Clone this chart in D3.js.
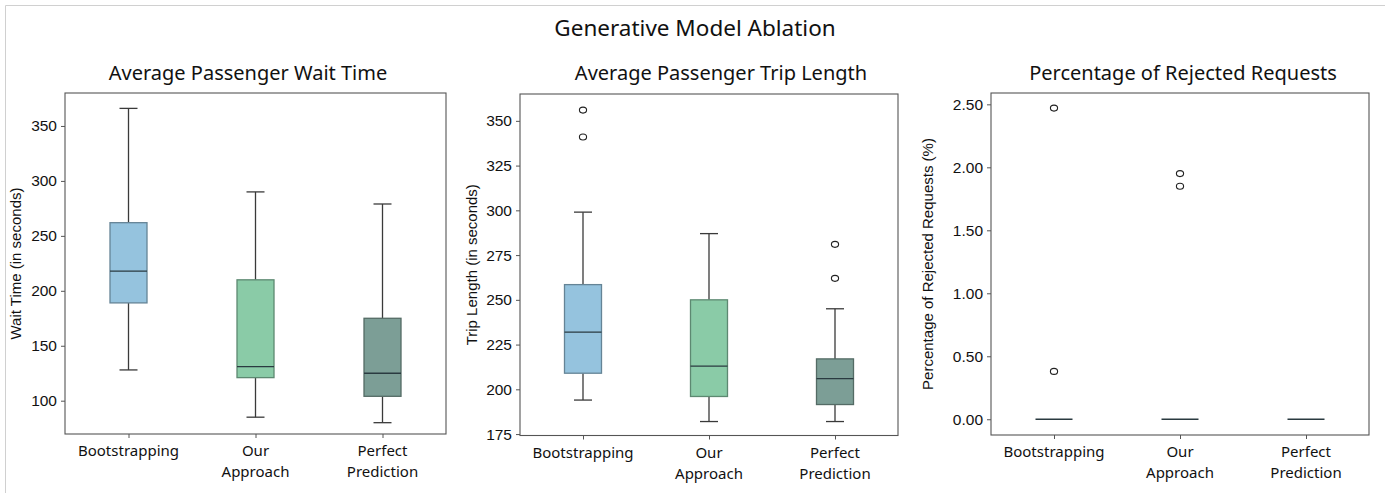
<!DOCTYPE html>
<html><head><meta charset="utf-8">
<script src="https://cdn.jsdelivr.net/npm/d3@7"></script>
<style>body{margin:0;background:#fff}</style>
</head><body>
<svg id="c" width="1385" height="493"></svg>
<script>
const categories = ["Bootstrapping", "Our Approach", "Perfect Prediction"];
const catLines = [["Bootstrapping"], ["Our", "Approach"], ["Perfect", "Prediction"]];
const colors = ["#95c3de", "#8acba7", "#7c9e96"];
// [whiskerLow, Q1, median, Q3, whiskerHigh]
const waitStats = [[128, 189, 218, 262, 366], [85, 121, 131, 210, 290], [80, 104, 125, 175, 279]];
const waitOutliers = [[], [], []];
const tripStats = [[194, 209, 232, 258.5, 299], [182, 196, 213, 250, 287], [182, 191.5, 206, 217, 245]];
const tripOutliers = [[341, 356], [], [262, 281]];
const rejStats = [[0, 0, 0, 0, 0], [0, 0, 0, 0, 0], [0, 0, 0, 0, 0]];
const rejOutliers = [[0.38, 2.47], [1.85, 1.95], []];
const waitTicks = [100, 150, 200, 250, 300, 350];
const tripTicks = [175, 200, 225, 250, 275, 300, 325, 350];
const rejTicks = [0, 0.5, 1, 1.5, 2, 2.5];

const svg = d3.select("#c");
svg.append("line").attr("x1",5.5).attr("x2",1385).attr("y1",5.5).attr("y2",5.5).attr("stroke","#d0d0d0");
svg.append("line").attr("x1",5.5).attr("x2",5.5).attr("y1",5.5).attr("y2",493).attr("stroke","#d0d0d0");

const titleFont = "'Noto Sans', 'Open Sans', sans-serif";
const tickFont = "'Liberation Sans', Arial, sans-serif";

svg.append("text").attr("x", 695).attr("y", 36).attr("text-anchor","middle")
  .style("font-family", titleFont).style("font-size","22.5px").attr("fill","#111")
  .text("Generative Model Ablation");

const panels = [
  {title:"Average Passenger Wait Time", tx:248, ylabel:"Wait Time (in seconds)", x0:65, x1:446, y0:93, y1:434, dom:[69.7,380], stats:waitStats, out:waitOutliers, ticks:waitTicks, fmt:d3.format("d"), ylx:21},
  {title:"Average Passenger Trip Length", tx:721, ylabel:"Trip Length (in seconds)", x0:520, x1:898, y0:94, y1:435.5, dom:[174.2,365], stats:tripStats, out:tripOutliers, ticks:tripTicks, fmt:d3.format("d"), ylx:477},
  {title:"Percentage of Rejected Requests", tx:1183, ylabel:"Percentage of Rejected Requests (%)", x0:991, x1:1369, y0:93, y1:435, dom:[-0.125,2.59], stats:rejStats, out:rejOutliers, ticks:rejTicks, fmt:d3.format(".2f"), ylx:933}
];

panels.forEach(p => {
  const g = svg.append("g");
  const x = d3.scalePoint().domain(categories).range([p.x0, p.x1]).padding(0.5);
  const y = d3.scaleLinear().domain(p.dom).range([p.y1, p.y0]);
  const bw = 37;
  g.append("text").attr("x",p.tx).attr("y",80).attr("text-anchor","middle")
    .style("font-family", titleFont).style("font-size","20px").attr("fill","#111").text(p.title);
  // boxes
  categories.forEach((c,i) => {
    const s = p.stats[i]; const cx = x(c);
    const isZero = s[4] === s[0];
    const line = "#3a3a3a";
    if (!isZero) {
      g.append("line").attr("x1",cx).attr("x2",cx).attr("y1",y(s[3])).attr("y2",y(s[4])).attr("stroke",line).attr("stroke-width",1.3);
      g.append("line").attr("x1",cx).attr("x2",cx).attr("y1",y(s[0])).attr("y2",y(s[1])).attr("stroke",line).attr("stroke-width",1.3);
      g.append("line").attr("x1",cx-9).attr("x2",cx+9).attr("y1",y(s[4])).attr("y2",y(s[4])).attr("stroke",line).attr("stroke-width",1.3);
      g.append("line").attr("x1",cx-9).attr("x2",cx+9).attr("y1",y(s[0])).attr("y2",y(s[0])).attr("stroke",line).attr("stroke-width",1.3);
      g.append("rect").attr("x",cx-bw/2).attr("width",bw).attr("y",y(s[3])).attr("height",y(s[1])-y(s[3]))
        .attr("fill",colors[i]).attr("stroke",d3.color(colors[i]).darker(1.1)).attr("stroke-width",1.3);
    }
    g.append("line").attr("x1",cx-bw/2).attr("x2",cx+bw/2).attr("y1",y(s[2])).attr("y2",y(s[2])).attr("stroke","#2a3a40").attr("stroke-width",1.3);
    p.out[i].forEach(v => {
      g.append("ellipse").attr("cx",cx).attr("cy",y(v)).attr("rx",3.6).attr("ry",3).attr("fill","none").attr("stroke","#222").attr("stroke-width",1.1);
    });
  });
  // frame
  g.append("rect").attr("x",p.x0).attr("y",p.y0).attr("width",p.x1-p.x0).attr("height",p.y1-p.y0)
    .attr("fill","none").attr("stroke","#555").attr("stroke-width",1.1);
  // y axis
  const ya = g.append("g").attr("transform",`translate(${p.x0},0)`)
    .call(d3.axisLeft(y).tickValues(p.ticks).tickFormat(p.fmt).tickSize(4).tickPadding(4));
  ya.select(".domain").remove();
  ya.selectAll("line").attr("stroke","#555");
  ya.selectAll("text").style("font-family",tickFont).style("font-size","15.5px").attr("fill","#111");
  // x axis
  const xa = g.append("g").attr("transform",`translate(0,${p.y1})`)
    .call(d3.axisBottom(x).tickSize(4).tickFormat(""));
  xa.select(".domain").remove();
  xa.selectAll("line").attr("stroke","#555");
  categories.forEach((c,i) => {
    const t = g.append("text").attr("x",x(c)).attr("y",p.y1+22).attr("text-anchor","middle")
      .style("font-family",titleFont).style("font-size","15px").attr("fill","#111");
    catLines[i].forEach((l,k) => t.append("tspan").attr("x",x(c)).attr("dy", k===0?0:21).text(l));
  });
  // y label
  g.append("text").attr("transform",`translate(${p.ylx},${(p.y0+p.y1)/2}) rotate(-90)`).attr("text-anchor","middle")
    .style("font-family",tickFont).style("font-size","15px").attr("fill","#111").text(p.ylabel);
});
</script>
</body></html>
